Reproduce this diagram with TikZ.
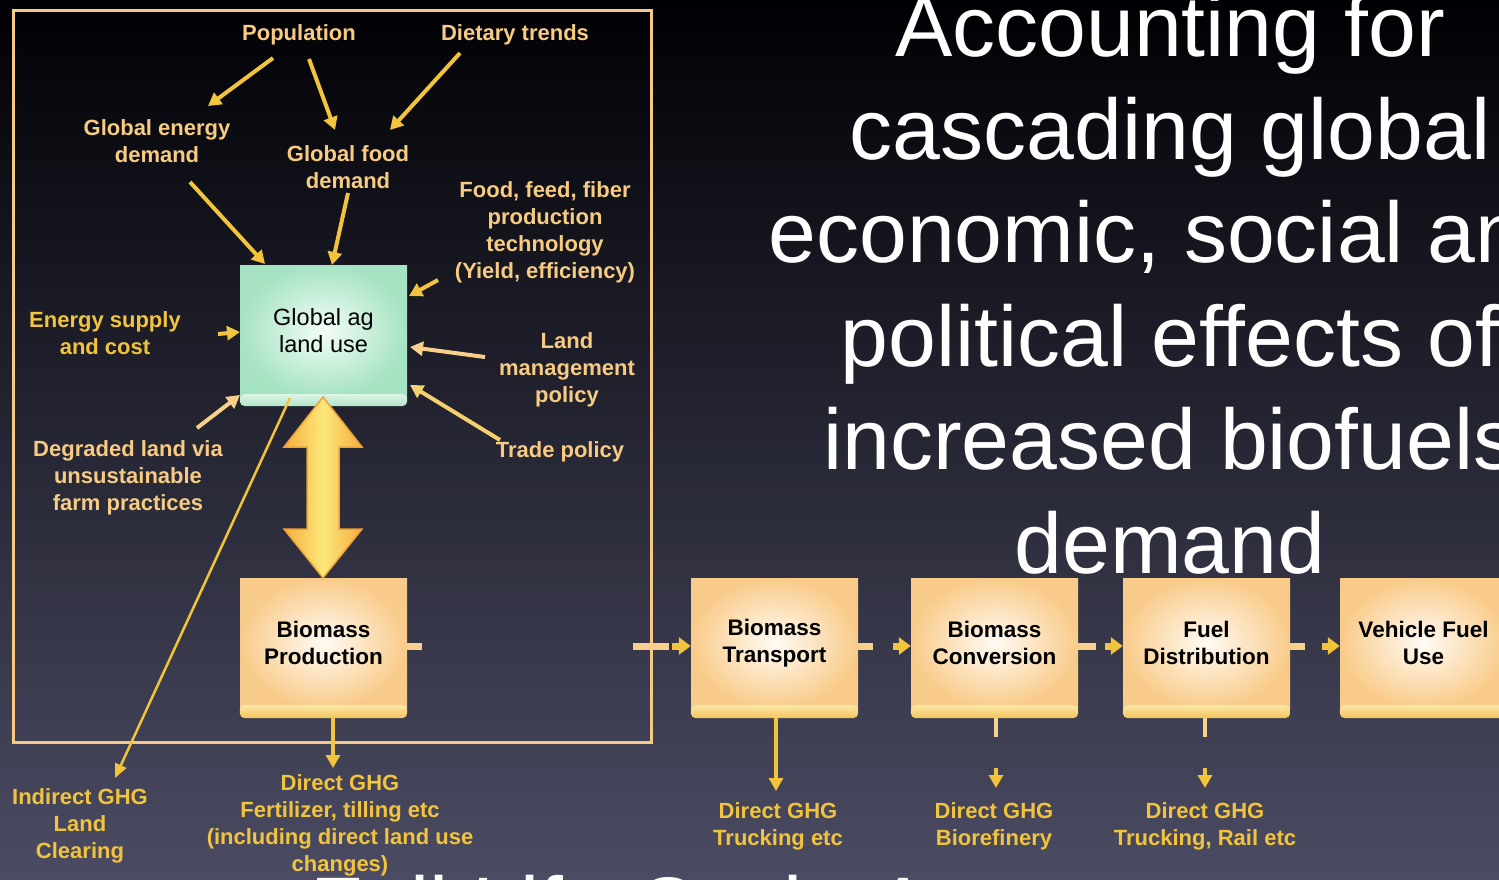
\documentclass[tikz,border=0pt]{standalone}
\usepackage{fontspec}
\setmainfont{Liberation Sans}
\usetikzlibrary{arrows.meta,calc}

\definecolor{bgtop}{HTML}{000004}
\definecolor{bgmid}{HTML}{18183A}
\definecolor{bgbot}{HTML}{4B4C63}
\definecolor{pale}{HTML}{F7CB82}
\definecolor{gold}{HTML}{F2C33C}
\definecolor{palegold}{HTML}{F5D070}
\definecolor{framec}{HTML}{F7C985}
\definecolor{stubc}{HTML}{F8D08C}
\definecolor{peachin}{HTML}{FFFBF4}
\definecolor{peachout}{HTML}{F9CB8A}
\definecolor{liptop}{HTML}{FCE7A8}
\definecolor{lipbot}{HTML}{F2C458}
\definecolor{mintin}{HTML}{F3FDF7}
\definecolor{mintout}{HTML}{A6E3C3}
\definecolor{mlip1}{HTML}{DDF4E6}
\definecolor{mlip2}{HTML}{B2E4C7}
\definecolor{dbl1}{HTML}{F4AE3E}
\definecolor{dbl2}{HTML}{FDE77A}
\definecolor{dbledge}{HTML}{EFA235}

\begin{document}
\begin{tikzpicture}[x=1pt,y=-1pt,
  lab/.style={inner sep=0pt, align=center, text=pale,
    font=\fontsize{22}{27}\selectfont\bfseries},
  glab/.style={lab, text=gold},
  title/.style={inner sep=0pt, text=white, font=\fontsize{86}{103}\selectfont},
  procbox/.style={shading=radial, inner color=peachin, outer color=peachout,
    minimum width=167pt, minimum height=130pt, inner sep=0pt, align=center,
    text=black, font=\fontsize{22.5}{27}\selectfont\bfseries},
  landbox/.style={procbox, inner color=mintin, outer color=mintout,
    minimum height=132pt, font=\fontsize{23.5}{27}\selectfont},
  arr/.style={draw=gold, line width=4pt, -{Triangle[length=13pt,width=14pt]}},
  thinarr/.style={draw=gold, line width=2.5pt, -{Triangle[length=14pt,width=12pt]}},
  stub/.style={draw=stubc, line width=7pt},
  flowarr/.style={draw=gold, line width=7pt, -{Triangle[length=12pt,width=17pt]}},
  vstub/.style={draw=stubc, line width=4pt},
]
\useasboundingbox (0,0) rectangle (1499,880);
\clip (0,0) rectangle (1499,880);

% slide background
\shade[top color=bgtop, middle color=bgmid, bottom color=bgbot] (0,0) rectangle (1499,880);

% frame around the land-use part of the chain
\draw[framec, line width=3pt] (13,11) rectangle (651,742);

% slide title
\node[title, anchor=base] (t1) at (1170,57) {Accounting for};
\node[title, anchor=base] (t2) at (1170,160) {cascading global};
\node[title, anchor=base] (t3) at (1170,262) {economic, social and};
\node[title, anchor=base] (t4) at (1170,366) {political effects of};
\node[title, anchor=base] (t5) at (1170,469) {increased biofuels};
\node[title, anchor=base] (t6) at (1170,573) {demand};
\node[title, anchor=base west] (sub) at (310,937) {Full Life Cycle Assessment to};

% process boxes
\node[landbox] (gal) at (323.5,331) {Global ag\\land use};
\shade[top color=mlip1, bottom color=mlip2, rounded corners=5pt]
  ([shift={(0,-3)}]gal.south west) rectangle ([shift={(0,9)}]gal.south east);
\foreach \n/\x/\t in {bp/323.5/{Biomass\\Production}, bt/774.5/{Biomass\\Transport},
    bc/994.5/{Biomass\\Conversion}, fd/1206.5/{Fuel\\Distribution},
    vf/1423.5/{Vehicle Fuel\\Use}} {
  \node[procbox] (\n) at (\x,643) {\t};
  \shade[top color=liptop, bottom color=lipbot, rounded corners=5pt]
    ([shift={(0,-3)}]\n.south west) rectangle ([shift={(0,10)}]\n.south east);
}

% two-way link between land use and biomass production
\shade[left color=dbl1, right color=dbl1, middle color=dbl2, draw=dbledge, line width=1.5pt]
  (323,397) -- (362,447) -- (339,447) -- (339,529) -- (362,529) -- (323,578)
  -- (284,529) -- (307,529) -- (307,447) -- (284,447) -- cycle;

% driver labels
\node[lab] (pop) at (299,35) {Population};
\node[lab] (diet) at (515,35) {Dietary trends};
\node[lab] (ged) at (157,141) {Global energy\\demand};
\node[lab] (gfd) at (348,167) {Global food\\demand};
\node[lab] (fft) at (545,232) {Food, feed, fiber\\production\\technology\\(Yield, efficiency)};
\node[glab] (esc) at (105,333) {Energy supply\\and cost};
\node[lab] (lmp) at (567,370) {Land\\management\\policy};
\node[lab] (dlv) at (128,478) {Degraded land via\\unsustainable\\farm practices};
\node[lab] (trade) at (560,452) {Trade policy};

% emission labels
\node[glab] (igh) at (80,826) {Indirect GHG\\Land\\Clearing};
\node[glab] (dgp) at (340,825) {Direct GHG\\Fertilizer, tilling etc\\(including direct land use\\changes)};
\node[glab] (dgt) at (778,826) {Direct GHG\\Trucking etc};
\node[glab] (dgc) at (994,826) {Direct GHG\\Biorefinery};
\node[glab] (dgf) at (1205,826) {Direct GHG\\Trucking, Rail etc};

% driver arrows
\draw[arr] ([shift={(-26,23)}]pop.center) -- ([shift={(51,-35)}]ged.center);
\draw[arr] ([shift={(10,24)}]pop.center) -- ([shift={(-13,-37)}]gfd.center);
\draw[arr] ([shift={(-55,18)}]diet.center) -- ([shift={(42,-37)}]gfd.center);
\draw[arr] ([shift={(33,41)}]ged.center) -- ([shift={(-58.5,-67)}]gal.center);
\draw[arr] ([shift={(0,26)}]gfd.center) -- ([shift={(8.5,-66)}]gal.center);
\draw[arr] ([shift={(-107,48)}]fft.center) -- ([shift={(85.5,-35)}]gal.center);
\draw[arr] ([shift={(113,1)}]esc.center) -- ([shift={(-83.5,1)}]gal.center);
\draw[arr, draw=stubc] ([shift={(-82,-13)}]lmp.center) -- ([shift={(86.5,16)}]gal.center);
\draw[arr, draw=palegold] ([shift={(-60,-12)}]trade.center) -- ([shift={(86.5,54)}]gal.center);
\draw[arr, draw=stubc] ([shift={(69,-50)}]dlv.center) -- ([shift={(-83.5,64)}]gal.center);
\draw[thinarr] ([shift={(-33.5,67)}]gal.center) -- ([shift={(35,-48)}]igh.center);

% emission arrows
\draw[arr] ([shift={(9.5,75)}]bp.center) -- ([shift={(-7,-57)}]dgp.center);
\draw[arr] ([shift={(1.5,75)}]bt.center) -- ([shift={(-2,-35)}]dgt.center);
\draw[vstub] ([shift={(1.5,75)}]bc.center) -- ([shift={(1.5,94)}]bc.center);
\draw[arr] ([shift={(2,-58)}]dgc.center) -- ([shift={(2,-38)}]dgc.center);
\draw[vstub] ([shift={(-1.5,75)}]fd.center) -- ([shift={(-1.5,94)}]fd.center);
\draw[arr] ([shift={(0,-58)}]dgf.center) -- ([shift={(0,-38)}]dgf.center);

% flow along the supply chain
\draw[stub] ([shift={(0,3)}]bp.east) -- ([shift={(15,3)}]bp.east);
\draw[stub] ([shift={(-58,3)}]bt.west) -- ([shift={(-22,3)}]bt.west);
\draw[flowarr] ([shift={(-19,3)}]bt.west) -- ([shift={(0,3)}]bt.west);
\draw[stub] ([shift={(0,3)}]bt.east) -- ([shift={(15,3)}]bt.east);
\draw[flowarr] ([shift={(-18,3)}]bc.west) -- ([shift={(0,3)}]bc.west);
\draw[stub] ([shift={(0,3)}]bc.east) -- ([shift={(18,3)}]bc.east);
\draw[flowarr] ([shift={(-18,3)}]fd.west) -- ([shift={(0,3)}]fd.west);
\draw[stub] ([shift={(0,3)}]fd.east) -- ([shift={(15,3)}]fd.east);
\draw[flowarr] ([shift={(-18,3)}]vf.west) -- ([shift={(0,3)}]vf.west);
\end{tikzpicture}
\end{document}
